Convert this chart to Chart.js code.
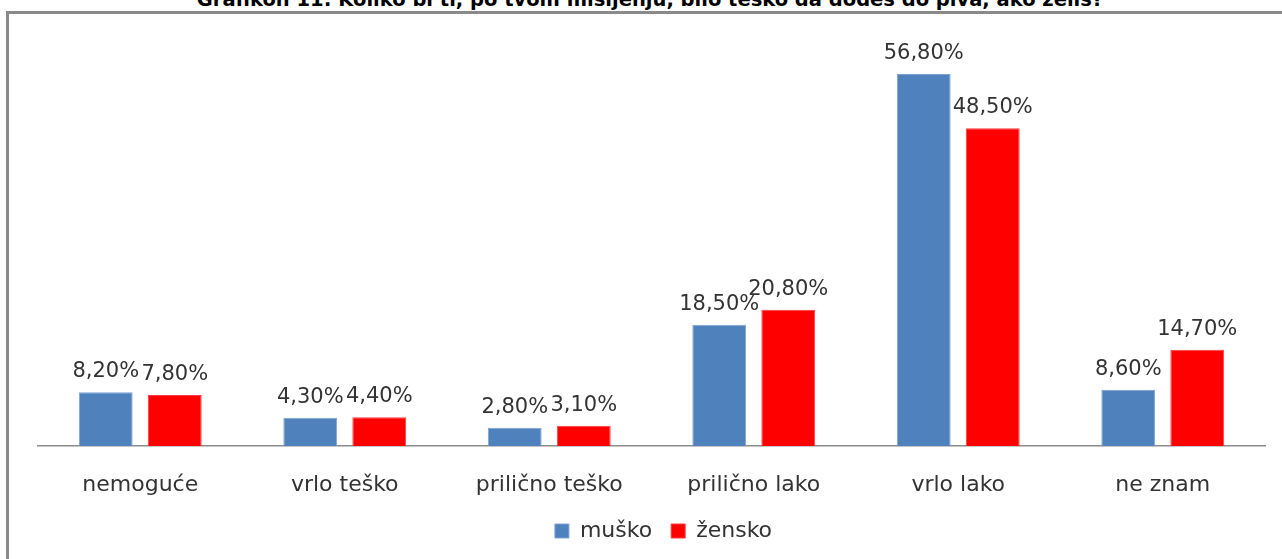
<!DOCTYPE html>
<html>
<head>
<meta charset="utf-8">
<script src="https://cdn.jsdelivr.net/npm/chart.js@4/dist/chart.umd.min.js"></script>
<style>
  html, body { margin: 0; padding: 0; background: #fff; overflow: hidden; }
  #wrap { position: relative; width: 1282px; height: 559px; overflow: hidden; }
  #title { position: absolute; left: 0; width: 1300px; top: -12px; text-align: center; line-height: 24px;
    font-family: "DejaVu Sans", sans-serif; font-weight: bold; font-size: 19.5px; color: #000; white-space: nowrap; }
  #frame { position: absolute; left: 6px; top: 11px; width: 1300px; height: 600px;
    border-top: 3px solid #8a8a8a; border-left: 3px solid #8a8a8a; box-sizing: border-box; }
  canvas { position: absolute; left: 0; top: 0; }
</style>
</head>
<body>
<div id="wrap">
  <div id="title">Grafikon 11: Koliko bi ti, po tvom mišljenju, bilo teško da dođeš do piva, ako želiš?</div>
  <div id="frame"></div>
  <canvas id="c" width="1282" height="559"></canvas>
</div>
<script>
const categories = ["nemoguće", "vrlo teško", "prilično teško", "prilično lako", "vrlo lako", "ne znam"];
const seriesNames = ["muško", "žensko"];
const musko = [8.2, 4.3, 2.8, 18.5, 56.8, 8.6];
const zensko = [7.8, 4.4, 3.1, 20.8, 48.5, 14.7];
const colors = ["#4F81BD", "#FF0000"];

const FONT = '"DejaVu Sans", sans-serif';

const valueLabels = {
  id: 'valueLabels',
  afterDatasetsDraw(chart) {
    const ctx = chart.ctx;
    ctx.save();
    ctx.font = '21px ' + FONT;
    ctx.fillStyle = '#333';
    ctx.textAlign = 'center';
    ctx.textBaseline = 'bottom';
    chart.data.datasets.forEach((ds, di) => {
      const meta = chart.getDatasetMeta(di);
      meta.data.forEach((bar, i) => {
        const txt = ds.data[i].toFixed(2).replace('.', ',') + '%';
        ctx.fillText(txt, bar.x, bar.y - 10);
      });
    });
    ctx.restore();
  }
};

const legendShift = {
  id: 'legendShift',
  afterLayout(chart) {
    if (chart.legend) { chart.legend.left += 12; chart.legend.right += 12; }
  }
};

new Chart(document.getElementById('c'), {
  type: 'bar',
  data: {
    labels: categories,
    datasets: [
      { label: seriesNames[0], data: musko, backgroundColor: colors[0], borderColor: '#7ea3d4', borderWidth: 1, categoryPercentage: 0.675, barPercentage: 0.78 },
      { label: seriesNames[1], data: zensko, backgroundColor: colors[1], borderColor: '#ff3b3b', borderWidth: 1, categoryPercentage: 0.675, barPercentage: 0.78 }
    ]
  },
  options: {
    responsive: false,
    animation: false,
    layout: { padding: { left: 38, right: 17, top: 53, bottom: 7 } },
    plugins: {
      title: { display: false },
      tooltip: { enabled: false },
      legend: {
        position: 'bottom',
        labels: { font: { family: FONT, size: 22 }, color: '#333', boxWidth: 14, boxHeight: 14, padding: 19 }
      }
    },
    scales: {
      x: {
        grid: { display: false, drawTicks: false },
        border: { display: true, color: '#8c8c8c', width: 1.5 },
        ticks: { font: { family: FONT, size: 22 }, color: '#333', padding: 26, maxRotation: 0, minRotation: 0 },
        afterFit(scale) { scale.height = 55; }
      },
      y: {
        display: false,
        min: 0, max: 60
      }
    }
  },
  plugins: [valueLabels, legendShift]
});
</script>
</body>
</html>
